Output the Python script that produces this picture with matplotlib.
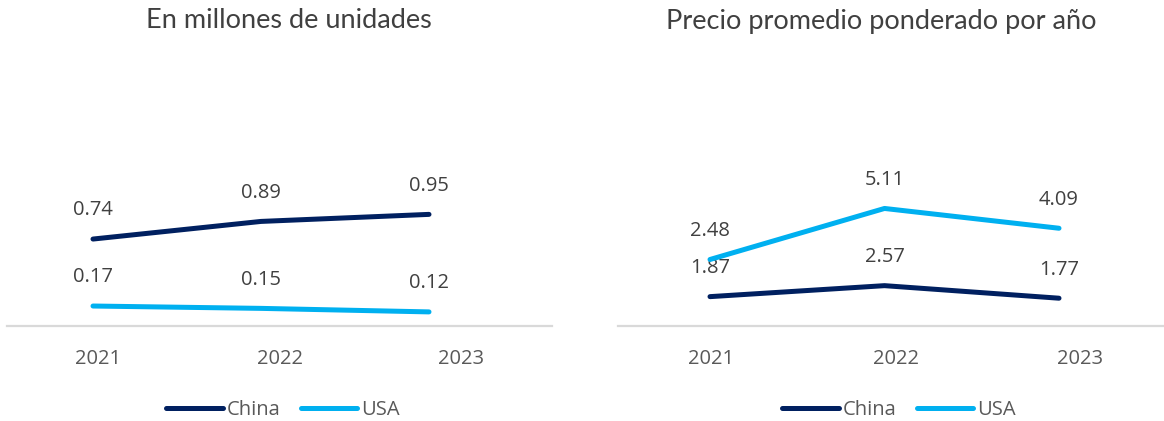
import numpy as np
import matplotlib
matplotlib.use("Agg")
import matplotlib.pyplot as plt
from matplotlib.lines import Line2D

# ── data ─────────────────────────────────────────────
years = ["2021", "2022", "2023"]
units_china = [0.74, 0.89, 0.95]
units_usa = [0.17, 0.15, 0.12]
price_china = [1.87, 2.57, 1.77]
price_usa = [2.48, 5.11, 4.09]

NAVY = "#002060"
SKY = "#00B0F0"
LABEL = "#404040"
TICK = "#595959"
GRID = "#D9D9D9"

plt.rcParams["font.family"] = ["Open Sans", "DejaVu Sans"]

W, H = 1164, 421
fig = plt.figure(figsize=(W / 100, H / 100), dpi=100)

base_px = 326   # baseline, px from top
top_px = 60
bottom = (H - base_px) / H
height = (base_px - top_px) / H
span = base_px - top_px


def make_axes(x0, x1, x_line0, x_line1):
    base = fig.add_axes([x0 / W, bottom, (x1 - x0) / W, height])
    base.set_xlim(-0.5, 2.5)
    base.set_xticks(range(len(years)))
    base.set_xticklabels(years, fontsize=14.5, color=TICK)
    base.tick_params(axis="x", length=0, pad=16.5)
    base.set_yticks([])
    for s in ["top", "left", "right"]:
        base.spines[s].set_visible(False)
    base.spines["bottom"].set_color(GRID)
    base.spines["bottom"].set_linewidth(1.6)
    base.patch.set_alpha(0)

    line = fig.add_axes([x_line0 / W, bottom, (x_line1 - x_line0) / W, height])
    line.set_xlim(-0.5, 2.5)
    line.axis("off")
    line.patch.set_alpha(0)
    return base, line


def draw(ax, vals, color):
    x = np.arange(len(vals))
    ax.plot(x, vals, color=color, lw=3.6, solid_capstyle="round", zorder=3)
    for xi, v in zip(x, vals):
        ax.annotate(f"{v:.2f}", (xi, v), xytext=(0, 17), textcoords="offset points",
                    ha="center", va="baseline", fontsize=14.5, color=LABEL)


# ── left panel ───────────────────────────────────────
lb, ll = make_axes(7.3, 551.7, 9, 513)
ll.set_ylim(0, span / 117.5)
draw(ll, units_china, NAVY)
draw(ll, units_usa, SKY)

# ── right panel ──────────────────────────────────────
rb, rl = make_axes(618.3, 1173, 622.75, 1146.25)
rl.set_ylim(0, span / 15.7)
draw(rl, price_china, NAVY)
rl2 = rl.twinx()
rl2.axis("off")
rl2.set_ylim(-0.947, 12.76)
draw(rl2, price_usa, SKY)

# ── titles ───────────────────────────────────────────
title_kw = dict(fontsize=19.5, color=LABEL, family=["Lato", "DejaVu Sans"],
                weight="normal", ha="center", va="center")
fig.text(289 / W, 1 - 21 / H, "En millones de unidades", **title_kw)
fig.text(881.5 / W, 1 - 21 / H, "Precio promedio ponderado por año", **title_kw)

# ── legends ──────────────────────────────────────────
handles = [Line2D([], [], color=NAVY, lw=3.6, solid_capstyle="round"),
           Line2D([], [], color=SKY, lw=3.6, solid_capstyle="round")]
for cx in (283, 899):
    leg = fig.legend(handles, ["China", "USA"], loc="center",
                     bbox_to_anchor=(cx / W, 1 - 410 / H), ncol=2, frameon=False,
                     fontsize=14.5, handlelength=2.8, handletextpad=0.2,
                     columnspacing=1.0, borderpad=0)
    for t in leg.get_texts():
        t.set_color(TICK)

fig.savefig("out.png", dpi=100, facecolor="white")
